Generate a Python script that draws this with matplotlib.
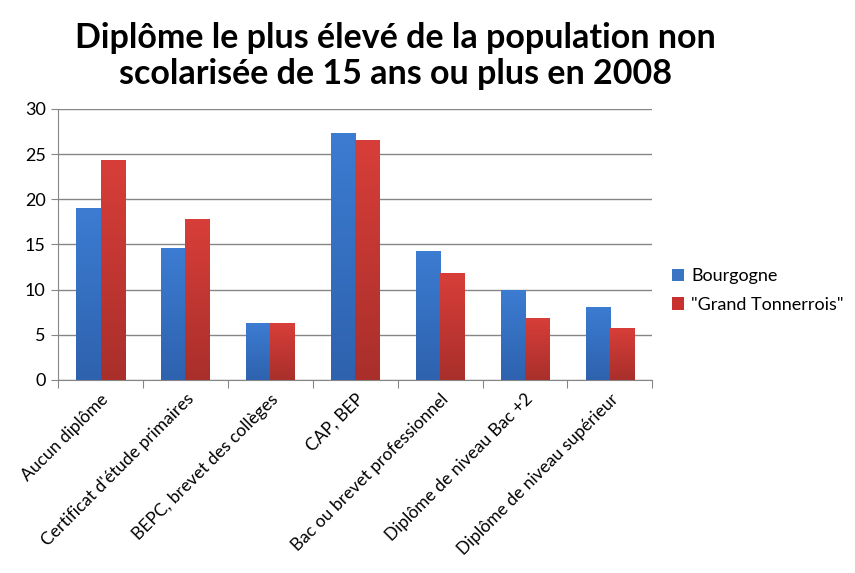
import matplotlib
matplotlib.use("Agg")
import matplotlib.pyplot as plt
import numpy as np
from matplotlib.colors import LinearSegmentedColormap

plt.rcParams['font.family'] = ['Lato', 'DejaVu Sans']

categories = ["Aucun diplôme", "Certificat d'étude primaires", "BEPC, brevet des collèges",
              "CAP, BEP", "Bac ou brevet professionnel", "Diplôme de niveau Bac +2",
              "Diplôme de niveau supérieur"]
bourgogne = [19.0, 14.6, 6.3, 27.3, 14.3, 10.0, 8.1]
tonnerrois = [24.3, 17.8, 6.3, 26.5, 11.8, 6.9, 5.7]
series_names = ["Bourgogne", "\"Grand Tonnerrois\""]
yticks = [0, 5, 10, 15, 20, 25, 30]

fig = plt.figure(figsize=(8.55, 5.73), dpi=100)
ax = fig.add_axes([0.068, 0.337, 0.695, 0.473])

x = np.arange(len(categories))
w = 0.285
b1 = ax.bar(x - w/2, bourgogne, w, color='#3A75C4', label=series_names[0], zorder=3)
b2 = ax.bar(x + w/2, tonnerrois, w, color='#C8312E', label=series_names[1], zorder=3)

ax.set_xlim(-0.5, len(categories) - 0.5)
ax.set_ylim(0, 30)

# vertical gradient fill, clipped to each bar
cmaps = [LinearSegmentedColormap.from_list('b', ['#2E62AE', '#3C7CD2']),
         LinearSegmentedColormap.from_list('r', ['#A92F2B', '#D83E39'])]
grad = np.linspace(0, 1, 256).reshape(-1, 1)
for bars, cm in zip([b1, b2], cmaps):
    for p in bars:
        x0, y0 = p.get_x(), p.get_y()
        ww, hh = p.get_width(), p.get_height()
        im = ax.imshow(grad, cmap=cm, aspect='auto', origin='lower',
                       extent=(x0, x0 + ww, y0, y0 + hh), zorder=3.5)
        im.set_clip_path(p)

ax.set_xlim(-0.5, len(categories) - 0.5)
ax.set_ylim(0, 30)
ax.set_yticks(yticks)
ax.set_yticklabels([str(v) for v in yticks], fontsize=13)
ax.yaxis.grid(True, color='#868686', linewidth=1.0, zorder=0)
ax.set_axisbelow(True)

ax.set_xticks(np.arange(len(categories) + 1) - 0.5, minor=False)
ax.set_xticklabels([])
ax.set_xticks(x, minor=True)
ax.set_xticklabels(categories, minor=True, rotation=45, ha='right', rotation_mode='anchor', fontsize=12.5)
ax.tick_params(axis='x', which='major', length=6, color='#868686', direction='out')
ax.tick_params(axis='x', which='minor', length=0, pad=8)
ax.tick_params(axis='y', length=5, color='#868686', pad=4)

for s in ['top', 'right']:
    ax.spines[s].set_visible(False)
ax.spines['left'].set_color('#868686')
ax.spines['bottom'].set_color('#868686')

fig.text(0.462, 0.903, "Diplôme le plus élevé de la population non\nscolarisée de 15 ans ou plus en 2008",
         ha='center', va='center', fontsize=24.5, fontweight='bold', linespacing=1.15)

leg = ax.legend(loc='center left', bbox_to_anchor=(1.005, 0.33), frameon=False, fontsize=13,
                handlelength=0.7, handleheight=0.7, handletextpad=0.4, labelspacing=0.7)

fig.savefig("out.png", dpi=100, facecolor='white')
